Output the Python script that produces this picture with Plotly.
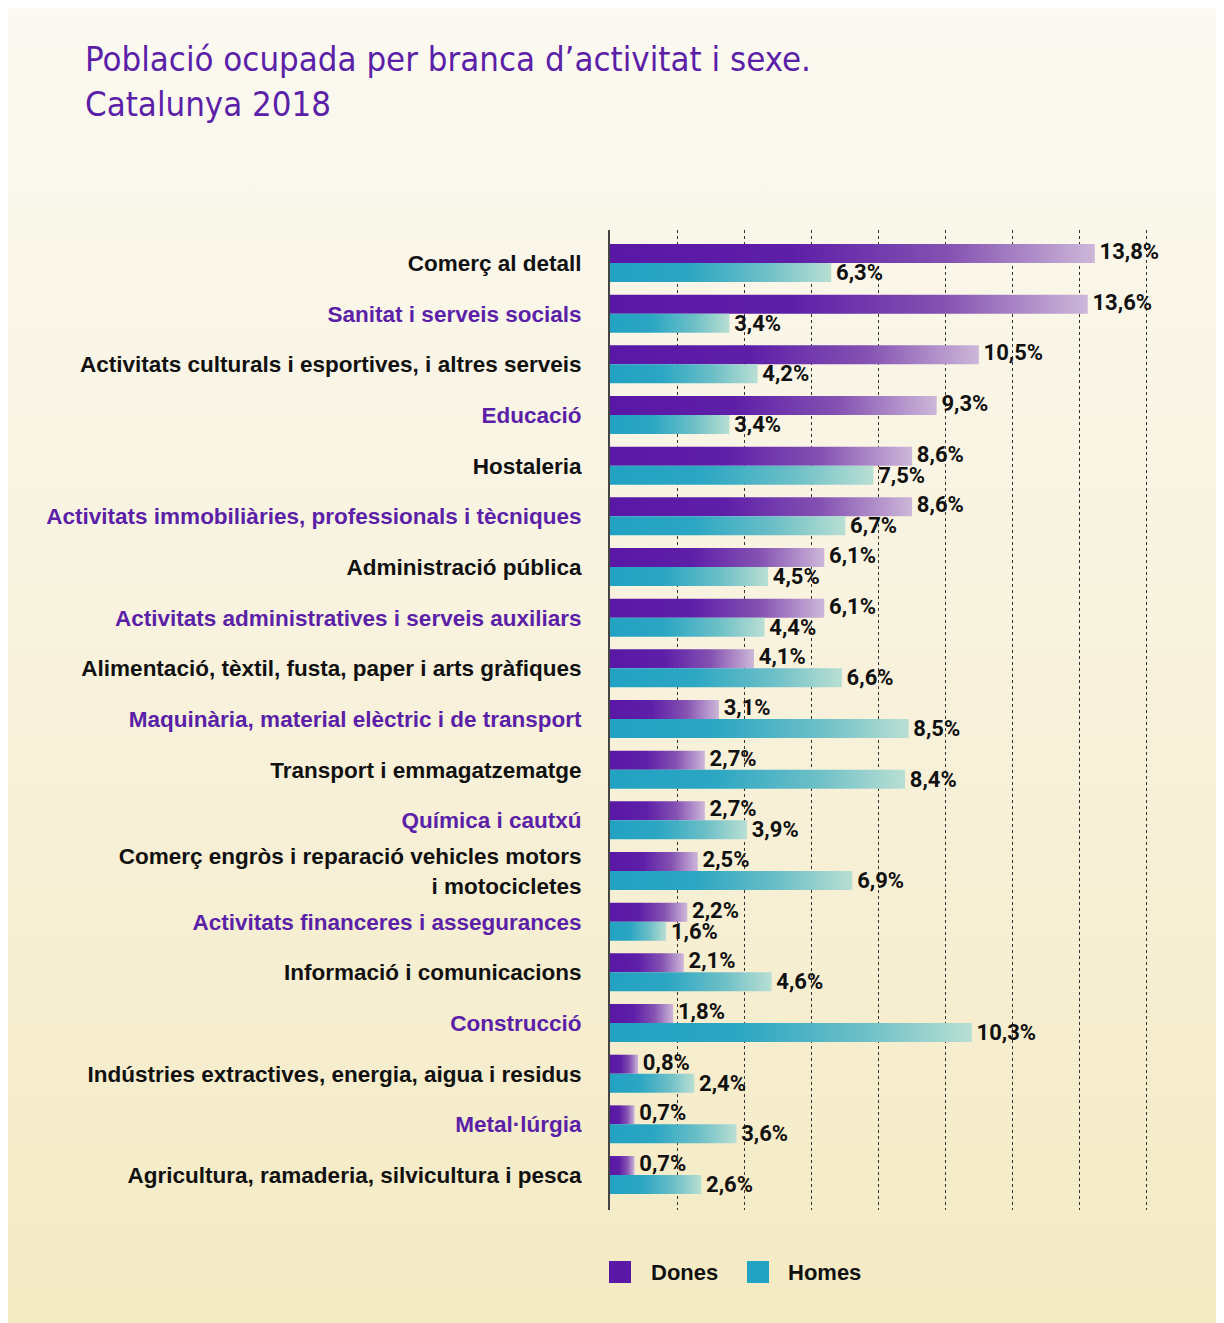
import base64
import plotly.graph_objects as go

# ---------------- data ----------------
categories = [
    "Comerç al detall",
    "Sanitat i serveis socials",
    "Activitats culturals i esportives, i altres serveis",
    "Educació",
    "Hostaleria",
    "Activitats immobiliàries, professionals i tècniques",
    "Administració pública",
    "Activitats administratives i serveis auxiliars",
    "Alimentació, tèxtil, fusta, paper i arts gràfiques",
    "Maquinària, material elèctric i de transport",
    "Transport i emmagatzematge",
    "Química i cautxú",
    "Comerç engròs i reparació vehicles motors<br>i motocicletes",
    "Activitats financeres i assegurances",
    "Informació i comunicacions",
    "Construcció",
    "Indústries extractives, energia, aigua i residus",
    "Metal·lúrgia",
    "Agricultura, ramaderia, silvicultura i pesca",
]
dones = [13.8, 13.6, 10.5, 9.3, 8.6, 8.6, 6.1, 6.1, 4.1, 3.1, 2.7, 2.7, 2.5, 2.2, 2.1, 1.8, 0.8, 0.7, 0.7]
homes = [6.3, 3.4, 4.2, 3.4, 7.5, 6.7, 4.5, 4.4, 6.6, 8.5, 8.4, 3.9, 6.9, 1.6, 4.6, 10.3, 2.4, 3.6, 2.6]
series_names = ["Dones", "Homes"]

# ---------------- style ----------------
W, H = 1212, 1315
ML, MT = 602, 222
PW, PH = 548, 980
MR, MB = W - ML - PW, H - MT - PH
X_MAX = 15.6
Y_TOP, Y_BOT = -0.651, 18.69
BH = 0.375  # bar thickness in category units

PURPLE = "#5a17a6"
TEAL = "#22a3c4"
purple_scale = [[0, "#5a17a6"], [0.38, "#5e1fa8"], [0.7, "#8552b2"], [1, "#cdb7d9"]]
teal_scale = [[0, "#22a2c3"], [0.35, "#2ba6c3"], [0.7, "#6cbfc7"], [1, "#b9dfd3"]]
LABEL_PURPLE = "#5b1fa8"

CAT_FONT = "Liberation Sans, Arial, Helvetica, sans-serif"
VAL_FONT = "Roboto, DejaVu Sans Condensed, sans-serif"


def fmt(v):
    return f"{v:.1f}".replace(".", ",") + "%"


def px2x(px):
    return (px - ML) / PW


def py2y(py):
    return (H - MB - py) / PH


fig = go.Figure()

# gradient bars
for i, v in enumerate(dones):
    fig.add_trace(go.Scatter(
        x=[0, v, v, 0, 0], y=[i - BH, i - BH, i, i, i - BH],
        fill="toself", mode="lines", line=dict(width=0, color=PURPLE),
        fillgradient=dict(type="horizontal", colorscale=purple_scale),
        hoverinfo="skip", showlegend=False,
    ))
for i, v in enumerate(homes):
    fig.add_trace(go.Scatter(
        x=[0, v, v, 0, 0], y=[i, i, i + BH, i + BH, i],
        fill="toself", mode="lines", line=dict(width=0, color=TEAL),
        fillgradient=dict(type="horizontal", colorscale=teal_scale),
        hoverinfo="skip", showlegend=False,
    ))

# value labels
for vals, off in ((dones, -BH / 2), (homes, BH / 2 + 0.04)):
    fig.add_trace(go.Scatter(
        x=vals, y=[i + off for i in range(len(vals))],
        mode="markers+text", text=[fmt(v) for v in vals], textposition="middle right",
        marker=dict(size=6, color="rgba(0,0,0,0)"),
        textfont=dict(family=VAL_FONT, size=22, color="#111111", weight="bold"),
        cliponaxis=False, hoverinfo="skip", showlegend=False,
    ))

ticktext = [
    (f'<span style="color:{LABEL_PURPLE}">{c}</span>' if i % 2 == 1 else c)
    for i, c in enumerate(categories)
]

# background gradient
svg = (
    '<svg xmlns="http://www.w3.org/2000/svg" width="100" height="100" viewBox="0 0 100 100" '
    'preserveAspectRatio="none"><defs><linearGradient id="g" x1="0" y1="0" x2="0" y2="1">'
    '<stop offset="0" stop-color="#fbf9f1"/><stop offset="0.5" stop-color="#f8f2dd"/>'
    '<stop offset="1" stop-color="#f4eac3"/></linearGradient></defs>'
    '<rect x="0" y="0" width="100" height="100" fill="url(#g)"/></svg>'
)
src = "data:image/svg+xml;base64," + base64.b64encode(svg.encode()).decode()

# legend (shapes + text)
legend_items = [(601, 641, PURPLE), (739, 778, TEAL)]
shapes = []
annotations = []
for (sx, tx, col), name in zip(legend_items, series_names):
    shapes.append(dict(type="rect", xref="paper", yref="paper",
                       x0=px2x(sx), x1=px2x(sx + 22), y0=py2y(1275), y1=py2y(1253),
                       fillcolor=col, line=dict(width=0)))
    annotations.append(dict(xref="paper", yref="paper", x=px2x(tx), y=py2y(1264),
                            xanchor="left", yanchor="middle", showarrow=False, text=name,
                            font=dict(family=CAT_FONT, size=22, color="#111111", weight="bold")))

fig.update_layout(
    width=W, height=H,
    margin=dict(l=ML, r=MR, t=MT, b=MB, pad=0),
    paper_bgcolor="#f8f2dd", plot_bgcolor="rgba(0,0,0,0)",
    title=dict(
        text="Població ocupada per branca d’activitat i sexe.<br>Catalunya 2018",
        xref="container", yref="container", x=77 / W, xanchor="left",
        y=1 - 63 / H, yanchor="top",
        font=dict(family="DejaVu Sans Condensed, Liberation Sans Narrow, sans-serif",
                  size=34.5, color=LABEL_PURPLE),
    ),
    images=[dict(source=src, xref="paper", yref="paper",
                 x=px2x(0), y=py2y(0), sizex=W / PW, sizey=H / PH,
                 xanchor="left", yanchor="top", sizing="stretch", layer="below")],
    shapes=shapes,
    annotations=annotations,
    showlegend=False,
)

fig.update_xaxes(
    range=[0, X_MAX], tick0=0, dtick=1.91, showticklabels=False, ticks="",
    showgrid=True, gridcolor="#333333", gridwidth=1, griddash="dot",
    zeroline=False, showline=False, fixedrange=True,
)
fig.update_yaxes(
    range=[Y_BOT, Y_TOP], tickmode="array", tickvals=list(range(len(categories))),
    ticktext=ticktext, ticks="", ticklabelstandoff=22,
    tickfont=dict(family=CAT_FONT, size=22.5, color="#111111", weight="bold"),
    showgrid=False, zeroline=False, showline=True, linecolor="#444444", linewidth=2,
    fixedrange=True,
)

fig.write_html("out.html")
